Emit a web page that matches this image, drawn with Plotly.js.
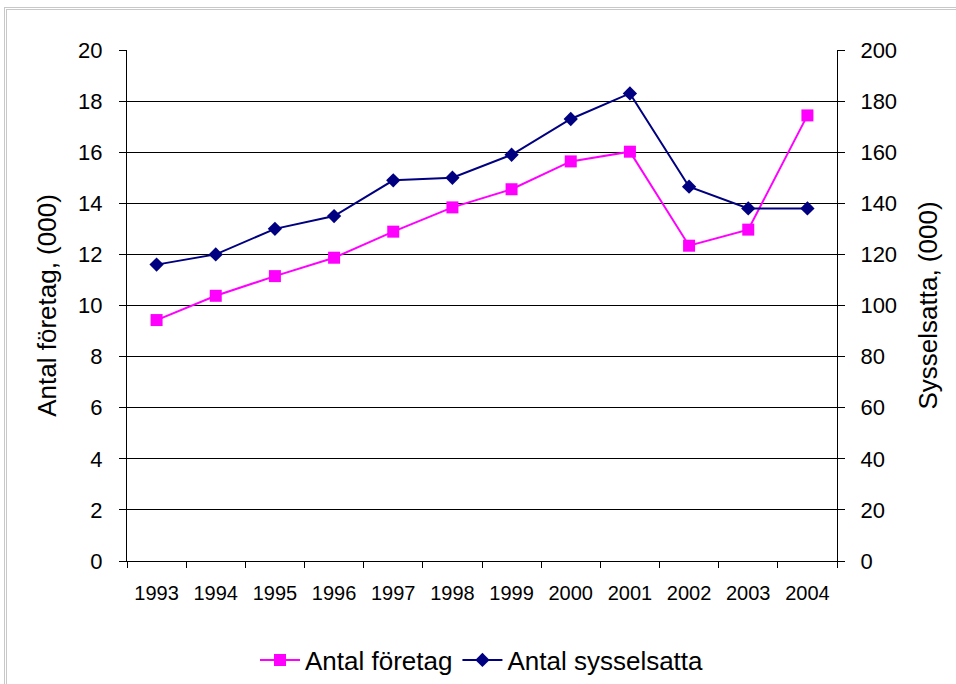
<!DOCTYPE html>
<html>
<head>
<meta charset="utf-8">
<script src="https://cdn.plot.ly/plotly-3.0.1.min.js"></script>
<style>
html,body{margin:0;padding:0;background:#fff;overflow:hidden;}
#chart{width:956px;height:684px;}
#frame{position:absolute;left:4px;top:7px;width:960px;height:690px;border:3px double #c8c8c8;pointer-events:none;box-sizing:border-box;}
</style>
</head>
<body>
<div id="chart"></div>
<div id="frame"></div>
<script>
const years = ['1993','1994','1995','1996','1997','1998','1999','2000','2001','2002','2003','2004'];
const antalForetag = [9.43, 10.38, 11.15, 11.87, 12.89, 13.84, 14.55, 15.64, 16.02, 12.34, 12.97, 17.44];
const antalSysselsatta = [116, 120, 130, 135, 149, 150, 159, 173, 183, 146.5, 138, 138];
const leftTicks = [0,2,4,6,8,10,12,14,16,18,20];
const rightTicks = [0,20,40,60,80,100,120,140,160,180,200];

const font = 'Liberation Sans, Arial, sans-serif';

const traces = [
  {
    x: years, y: antalForetag, name: 'Antal företag', type: 'scatter', mode: 'lines+markers',
    line: {color: '#FF00FF', width: 2},
    marker: {symbol: 'square', size: 12, color: '#FF00FF'},
    yaxis: 'y'
  },
  {
    x: years, y: antalSysselsatta, name: 'Antal sysselsatta', type: 'scatter', mode: 'lines+markers',
    line: {color: '#000080', width: 2},
    marker: {symbol: 'diamond', size: 11, color: '#000080'},
    yaxis: 'y2'
  }
];

const layout = {
  width: 956, height: 684,
  margin: {l: 127, r: 119, t: 50, b: 123},
  paper_bgcolor: '#fff', plot_bgcolor: '#fff',
  font: {family: font, color: '#000'},
  showlegend: true,
  legend: {orientation: 'h', x: 0.5, xanchor: 'center', xref: 'paper',
           yref: 'container', y: 0.035, yanchor: 'middle',
           font: {size: 26, family: font}, traceorder: 'normal', itemwidth: 40},
  xaxis: {
    type: 'category', range: [-0.5, 11.5],
    showline: true, linecolor: '#000', linewidth: 1, mirror: false,
    ticks: 'outside', tickson: 'boundaries', ticklen: 6, tickcolor: '#000',
    ticklabelstandoff: 14,
    tickfont: {size: 20, family: font}, showgrid: false, zeroline: false
  },
  xaxis2: {
    overlaying: 'x', anchor: 'y', side: 'bottom',
    range: [-0.5, 11.5], tick0: -0.5, dtick: 1,
    ticks: 'inside', ticklen: 7, tickcolor: '#000',
    showticklabels: false, showgrid: false, zeroline: false, showline: false
  },
  yaxis: {
    range: [0, 20], tickvals: leftTicks, ticktext: leftTicks.map(String),
    showline: true, linecolor: '#000', linewidth: 1,
    ticks: 'outside', ticklen: 7, tickcolor: '#000',
    ticklabelstandoff: 12,
    showgrid: true, gridcolor: '#000', gridwidth: 1, zeroline: false,
    tickfont: {size: 22, family: font},
    title: {text: 'Antal företag, (000)', font: {size: 26, family: font}, standoff: 14}
  },
  yaxis2: {
    range: [0, 200], tickvals: rightTicks, ticktext: rightTicks.map(String),
    overlaying: 'y', side: 'right',
    showline: true, linecolor: '#000', linewidth: 1,
    ticks: 'outside', ticklen: 7, tickcolor: '#000',
    ticklabelstandoff: 11,
    showgrid: false, zeroline: false,
    tickfont: {size: 22, family: font},
    title: {text: 'Sysselsatta, (000)', font: {size: 26, family: font}, standoff: 22}
  }
};

Plotly.newPlot('chart', traces, layout, {displayModeBar: false, staticPlot: true});
</script>
</body>
</html>
